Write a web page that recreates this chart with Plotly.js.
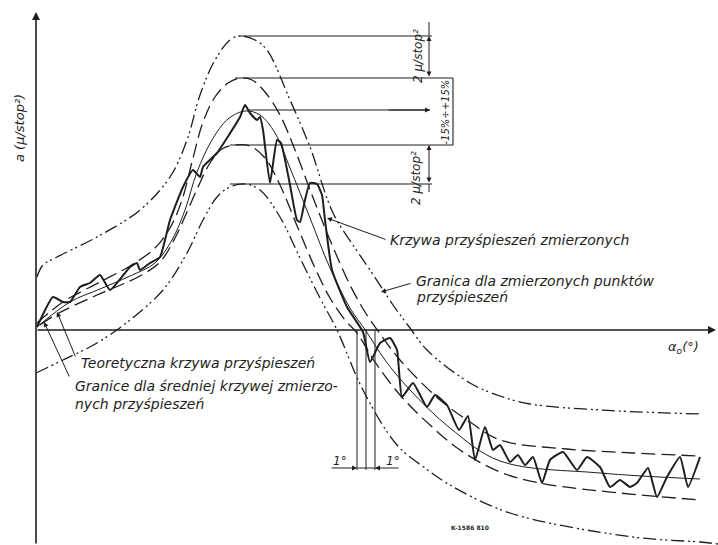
<!DOCTYPE html>
<html>
<head>
<meta charset="utf-8">
<script src="https://cdn.plot.ly/plotly-3.0.1.min.js"></script>
<style>html,body{margin:0;padding:0;background:#fff;}#chart{width:718px;height:545px;}</style>
</head>
<body>
<div id="chart"></div>
<script>
// Units: x = alpha_0 [deg-like], y = a [micro/stop^2-like]
// Outer upper limit (measured points)
const ouX = [0.1,0.7,2.1,6.1,10.4,13.4,15.1,16.4,17.9,19.4,20.4,21.9,23.1,25.4,27.4,29.7,31.9,33.4,35.7,37.4,39.1,43.4,46.4,49.4,56.4,66.4];
const ouY = [2.65,3.25,3.65,4.65,6.0,7.65,9.5,11.75,13.5,14.5,14.7,14.5,14.0,11.5,9.15,5.85,4.1,3.0,1.25,0.1,-1.0,-2.65,-3.3,-3.7,-4.0,-4.2];
// Upper limit of mean curve (+15%)
const udX = [0.1,2.7,6.4,9.4,11.9,13.4,14.6,15.7,16.7,17.9,19.2,20.4,21.6,22.9,24.4,25.9,27.6,29.4,31.4,32.9,34.2,36.4,40.4,43.4,46.4,53.1,59.7,66.4];
const udY = [0.35,1.4,2.4,3.2,4.1,5.1,6.5,8.6,10.4,11.65,12.35,12.6,12.5,11.9,10.75,9.0,6.75,4.5,2.25,0.9,-0.05,-1.5,-3.5,-4.6,-5.5,-5.95,-6.15,-6.3];
// Theoretical (mean) curve
const mX = [0.1,3.4,6.4,9.4,11.9,13.6,14.9,16.1,17.6,19.2,20.9,22.4,23.9,25.4,27.4,29.4,31.4,33.0,34.9,37.4,41.4,46.4,56.4,66.4];
const mY = [0.15,1.4,2.05,2.7,3.35,4.5,6.0,7.9,9.5,10.55,10.95,10.75,9.85,8.1,5.6,3.1,1.1,-0.05,-1.5,-3.0,-4.9,-6.55,-7.15,-7.45];
// Lower limit of mean curve (-15%)
const ldX = [0.4,2.1,6.1,10.4,12.4,13.9,15.1,16.2,17.4,18.6,19.9,21.4,22.9,24.4,26.2,27.9,29.4,30.9,32.1,33.9,36.4,39.4,42.4,46.4,50.4,56.4,66.4];
const ldY = [0.25,0.8,1.75,2.7,3.4,4.6,5.9,7.15,8.35,9.05,9.25,9.2,8.6,7.25,5.1,3.1,1.6,0.5,-0.15,-1.6,-3.25,-4.75,-6.0,-7.1,-7.65,-8.05,-8.5];
// Outer lower limit (measured points)
const olX = [0.0,2.7,6.1,9.4,12.7,15.1,16.7,18.1,19.4,20.9,22.4,24.4,26.4,28.4,30.1,32.7,36.1,38.9,41.4,47.4,59.7,66.4,68.2];
const olY = [-2.15,-1.5,-0.65,0.5,2.0,3.85,5.5,6.65,7.15,7.3,7.0,5.65,3.6,1.6,0.0,-3.0,-5.75,-6.9,-7.75,-9.15,-10.35,-10.6,-10.7];
// Measured acceleration curve
const msX = [0.1,1.7,2.7,3.4,4.4,5.4,6.4,7.4,9.4,10.1,10.4,11.4,12.4,13.4,14.7,15.7,16.4,16.7,18.1,20.4,20.9,21.4,22.1,22.4,22.7,23.4,24.1,24.5,25.4,26.1,26.4,26.9,27.4,28.1,28.6,28.9,29.6,31.1,32.7,33.4,34.4,35.4,36.1,36.6,37.7,39.1,39.9,41.1,42.3,43.2,43.9,44.9,45.7,46.4,47.4,48.2,48.9,49.7,50.6,51.4,52.7,54.1,55.1,56.4,57.4,58.4,59.4,60.1,61.2,62.1,63.1,64.4,65.2,66.4];
const msY = [0.15,1.65,1.4,1.4,2.15,2.35,2.75,2.0,3.15,3.35,3.0,3.35,3.65,5.5,7.15,8.0,7.65,8.15,8.85,10.65,11.25,10.85,10.5,10.65,10.0,7.35,9.5,9.35,7.25,5.5,5.4,6.5,7.35,7.3,6.75,5.5,3.0,1.15,-0.1,-1.6,-0.65,-0.4,-1.0,-3.35,-2.65,-3.85,-3.25,-3.75,-5.0,-4.3,-6.5,-4.85,-6.0,-5.75,-6.6,-6.25,-6.75,-6.35,-7.65,-6.5,-6.1,-7.0,-6.35,-6.85,-7.85,-7.5,-7.85,-7.65,-6.9,-8.35,-7.35,-6.35,-7.85,-6.35];
// Reference levels (peaks of the curves) drawn to the dimension marks
const refY = [14.7, 12.6, 11.0, 9.25, 7.3];
const refX0 = [20.4, 19.9, 21.1, 19.4, 19.4];
const refX1 = [39.6, 41.7, 39.4, 41.7, 39.6];
// Tolerance verticals at the zero crossing (1 deg each side)
const crossX = [32.1, 33.0, 33.9];
const crossBottom = -7.0;
// Labels
const labelsTop = ['2 μ/stop²', '-15%÷+15%', '2 μ/stop²'];
const yLabel = 'a (μ/stop²)';
const xLabel = 'α<sub>o</sub>(°)';

const ink = '#1e1e1e';
const dashOuter = '13px,4px,2px,3px,2px,4px';

const traces = [];
function curve(x, y, width, dash, shape, smoothing) {
  traces.push({x: x, y: y, mode: 'lines', hoverinfo: 'skip',
    line: {color: ink, width: width, dash: dash, shape: shape, smoothing: smoothing}});
}
curve(ouX, ouY, 1.3, dashOuter, 'spline', 1);
curve(udX, udY, 1.3, '14px,6px', 'spline', 1);
curve(mX, mY, 1.0, 'solid', 'spline', 1);
curve(ldX, ldY, 1.3, '14px,6px', 'spline', 1);
curve(olX, olY, 1.3, dashOuter, 'spline', 1);
curve(msX, msY, 2.0, 'solid', 'spline', 0.45);

// reference horizontal lines
refY.forEach(function (yv, i) {
  traces.push({x: [refX0[i], refX1[i]], y: [yv, yv], mode: 'lines', hoverinfo: 'skip',
    line: {color: ink, width: 1.1}});
});
// box edge for ±15%
traces.push({x: [refX1[1], refX1[3]], y: [refY[1], refY[3]], mode: 'lines', hoverinfo: 'skip', line: {color: ink, width: 1.1}});
// vertical tolerance lines
crossX.forEach(function (xv) {
  traces.push({x: [xv, xv], y: [0, crossBottom], mode: 'lines', hoverinfo: 'skip', line: {color: ink, width: 1}});
});
traces.push({x: [crossX[0], crossX[2]], y: [crossBottom + 0.1, crossBottom + 0.1], mode: 'lines', hoverinfo: 'skip', line: {color: ink, width: 1}});
// dimension extensions
traces.push({x: [39.3, 39.3], y: [refY[0], 15.4], mode: 'lines', hoverinfo: 'skip', line: {color: ink, width: 1}});
traces.push({x: [39.3, 39.3], y: [refY[4], 6.9], mode: 'lines', hoverinfo: 'skip', line: {color: ink, width: 1}});

const txtFont = {family: 'DejaVu Sans, Liberation Sans, sans-serif', size: 14, color: ink, style: 'italic'};
function arrow(hx, hy, tx, ty, w, side) {
  return {x: hx, y: hy, ax: tx, ay: ty, xref: 'x', yref: 'y', axref: 'x', ayref: 'y',
    text: '', showarrow: true, arrowhead: 2, arrowsize: 1, arrowwidth: w || 1,
    arrowcolor: ink, arrowside: side || 'end'};
}
function label(x, y, text, opts) {
  return Object.assign({x: x, y: y, xref: 'x', yref: 'y', text: text, showarrow: false,
    xanchor: 'left', yanchor: 'middle', font: txtFont}, opts || {});
}

const annotations = [
  // axes
  arrow(0, 15.9, 0, -10.75, 1.6),
  arrow(68.0, 0, 0, 0, 1.6),
  // leaders
  arrow(29.1, 5.6, 35.1, 4.5, 1),
  arrow(34.5, 1.9, 37.6, 2.35, 1),
  arrow(2.1, 0.9, 4.0, -1.4, 1),
  arrow(0.8, 0.4, 3.4, -2.4, 1),
  // dimensions
  arrow(39.3, refY[0], 39.3, refY[1], 1, 'end+start'),
  arrow(39.3, refY[3], 39.3, refY[4], 1, 'end+start'),
  arrow(refX1[2], refY[2], refX0[2] + 14, refY[2], 1),
  arrow(crossX[0], crossBottom + 0.1, 29.4, crossBottom + 0.1, 1),
  arrow(crossX[2], crossBottom + 0.1, 36.4, crossBottom + 0.1, 1),
  // texts
  label(35.2, 4.5, 'Krzywa przyśpieszeń zmierzonych'),
  label(37.8, 2.45, 'Granica dla zmierzonych punktów'),
  label(37.8, 1.65, 'przyśpieszeń'),
  label(4.3, -1.65, 'Teoretyczna krzywa przyśpieszeń'),
  label(3.7, -2.8, 'Granice dla średniej krzywej zmierzo-'),
  label(3.7, -3.7, 'nych przyśpieszeń'),
  label(38.2, 13.7, labelsTop[0], {xanchor: 'center', textangle: -90, font: Object.assign({}, txtFont, {size: 12})}),
  label(40.85, 10.9, labelsTop[1], {xanchor: 'center', textangle: -90, font: Object.assign({}, txtFont, {size: 10})}),
  label(38.0, 7.6, labelsTop[2], {xanchor: 'center', textangle: -90, font: Object.assign({}, txtFont, {size: 12})}),
  label(-1.7, 10.1, yLabel, {xanchor: 'center', textangle: -90, font: Object.assign({}, txtFont, {size: 13})}),
  label(64.7, -0.85, xLabel, {xanchor: 'center', font: Object.assign({}, txtFont, {size: 13})}),
  label(30.4, -6.55, '1°', {xanchor: 'center', font: Object.assign({}, txtFont, {size: 12})}),
  label(35.7, -6.55, '1°', {xanchor: 'center', font: Object.assign({}, txtFont, {size: 12})}),
  label(43.4, -9.85, 'K-1586 810', {xanchor: 'center', font: {family: 'DejaVu Sans', size: 6, color: ink, weight: 'bold'}})
];

const layout = {
  width: 718, height: 545,
  margin: {l: 0, r: 0, t: 0, b: 0},
  paper_bgcolor: '#ffffff', plot_bgcolor: '#ffffff',
  showlegend: false,
  xaxis: {range: [-3.6, 68.2], visible: false, fixedrange: true},
  yaxis: {range: [-10.75, 16.5], visible: false, fixedrange: true},
  annotations: annotations
};
Plotly.newPlot('chart', traces, layout, {staticPlot: true, displayModeBar: false});
</script>
</body>
</html>
